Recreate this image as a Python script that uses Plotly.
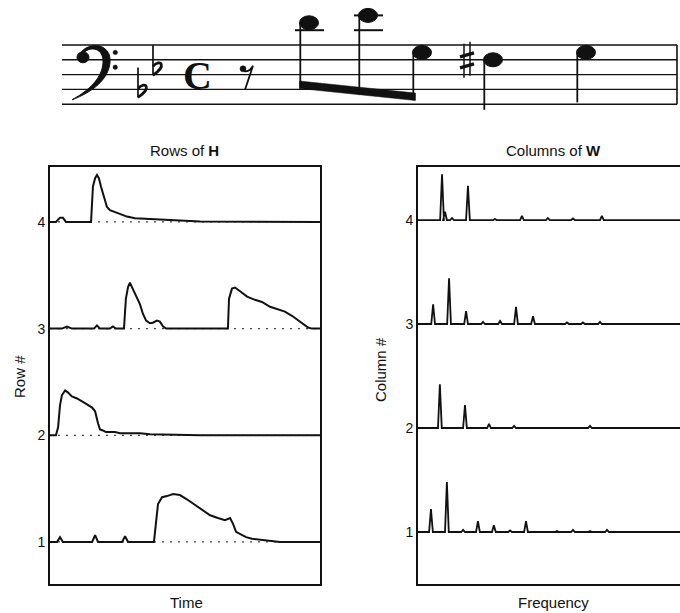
import plotly.graph_objects as go

# ---------------------------------------------------------------
# Rows of H : activation of each component over time (0-100 %)
# ---------------------------------------------------------------
h4_t = [0, 2.2, 3.7, 4.8, 5.9, 15.2, 15.9, 16.7, 17.4, 18.1, 18.9, 20.0, 21.1, 22.2,
        24.1, 25.9, 28.5, 31.5, 37.0, 42.6, 50.0, 55.6, 100]
h4_v = [0, 0, 0.04, 0.04, 0, 0, 0.33, 0.41, 0.44, 0.41, 0.33, 0.23, 0.14, 0.11,
        0.09, 0.075, 0.05, 0.035, 0.03, 0.02, 0.01, 0.005, 0]

h3_t = [0, 4.4, 6.3, 8.1, 16.3, 17.4, 18.5, 22.2, 23.3, 24.4, 27.4, 28.1, 28.9, 29.6,
        30.7, 31.9, 33.3, 34.4, 35.6, 37.0, 38.1, 39.6, 40.7, 41.9, 43.0, 65.9, 66.3,
        67.4, 68.5, 70.4, 73.0, 75.9, 78.5, 81.5, 84.4, 87.0, 89.6, 91.9, 93.7, 95.6,
        97.0, 100]
h3_v = [0, 0, 0.02, 0, 0, 0.03, 0, 0, 0.02, 0, 0, 0.28, 0.39, 0.43,
        0.37, 0.31, 0.23, 0.14, 0.075, 0.05, 0.055, 0.075, 0.065, 0.02, 0, 0, 0.28,
        0.375, 0.385, 0.35, 0.30, 0.27, 0.25, 0.205, 0.18, 0.16, 0.12, 0.075, 0.04, 0.01,
        0, 0]

h2_t = [0, 2.2, 3.0, 3.7, 4.4, 5.6, 6.7, 8.1, 10.0, 11.9, 13.7, 15.6, 16.7, 17.8,
        18.5, 19.6, 20.7, 22.2, 24.1, 25.9, 27.8, 33.3, 37.0, 44.4, 55.6, 100]
h2_v = [0, 0, 0.075, 0.28, 0.375, 0.42, 0.40, 0.365, 0.345, 0.32, 0.29, 0.26, 0.225, 0.11,
        0.055, 0.045, 0.03, 0.03, 0.03, 0.02, 0.02, 0.02, 0.01, 0.005, 0, 0]

h1_t = [0, 2.6, 3.7, 4.8, 15.6, 16.7, 17.8, 26.7, 27.8, 28.9, 38.5, 39.3, 40.0, 41.5,
        43.3, 45.6, 48.1, 50.7, 53.7, 56.3, 59.3, 62.2, 64.8, 66.7, 67.8, 68.9, 70.4,
        72.6, 74.8, 77.8, 81.5, 85.2, 100]
h1_v = [0, 0, 0.045, 0, 0, 0.065, 0, 0, 0.055, 0, 0, 0.19, 0.355, 0.42,
        0.43, 0.45, 0.44, 0.40, 0.345, 0.30, 0.25, 0.225, 0.205, 0.225, 0.17, 0.095, 0.075,
        0.045, 0.03, 0.02, 0.01, 0, 0]

# ---------------------------------------------------------------
# Columns of W : spectral peaks of each component (0-100 % band)
# ---------------------------------------------------------------
w4_f = [8.9, 10.0, 12.6, 18.5, 28.5, 38.5, 48.1, 57.4, 68.1]
w4_a = [0.44, 0.08, 0.02, 0.33, 0.01, 0.04, 0.02, 0.015, 0.04]

w3_f = [5.6, 11.5, 17.8, 24.1, 30.4, 36.3, 42.6, 55.2, 61.1, 67.4]
w3_a = [0.19, 0.44, 0.125, 0.02, 0.03, 0.165, 0.075, 0.015, 0.015, 0.02]

w2_f = [8.1, 17.4, 26.3, 35.6, 63.7]
w2_a = [0.42, 0.22, 0.04, 0.02, 0.02]

w1_f = [4.8, 10.7, 16.7, 22.2, 28.1, 34.1, 40.0, 51.5, 57.4, 63.7, 70.0]
w1_a = [0.22, 0.48, 0.02, 0.105, 0.065, 0.015, 0.105, 0.01, 0.02, 0.01, 0.02]

component_ticks = [1, 2, 3, 4]
component_labels = ["1", "2", "3", "4"]

# ---------------------------------------------------------------
# Score excerpt (bass clef, two flats, common time)
# ---------------------------------------------------------------
key_flats = ["B2", "E3"]
melody_pitch = ["D4", "Eb4", "G3", "F#3", "G3"]
melody_beats = [0.5, 0.5, 0.5, 1, 1]          # eighth rest first, then these
beamed_group = [0, 1, 2]

# horizontal engraving positions (staff coordinate system = pixels)
flat_x = [138, 153]
note_x = [309, 368, 422, 493, 586]
rest_x = 244
time_sig_x = 197
STAFF_X0, STAFF_X1 = 62, 677
TOP_LINE_Y, HALF_GAP = 45.0, 7.4

FONT = "Liberation Sans, Arial, sans-serif"
INK = "#111111"

W, H = 680, 613


def staff_y(pitch):
    order = {"C": 0, "D": 1, "E": 2, "F": 3, "G": 4, "A": 5, "B": 6}
    step = int(pitch[-1]) * 7 + order[pitch[0]]
    return TOP_LINE_Y + (26 - step) * HALF_GAP      # 26 = A3, top line of bass staff


def spectrum(freqs, amps, base, half_w=0.7, fmax=100):
    xs, ys = [0], [base]
    for f, a in zip(freqs, amps):
        xs += [f - half_w, f, f + half_w]
        ys += [base, base + a, base]
    xs.append(fmax)
    ys.append(base)
    return xs, ys


fig = go.Figure()

# ---- left panel: rows of H
rows = [(1, h1_t, h1_v), (2, h2_t, h2_v), (3, h3_t, h3_v), (4, h4_t, h4_v)]
for k, t, v in rows:
    fig.add_trace(go.Scatter(x=[0, 100], y=[k, k], mode="lines",
                             line=dict(color="#444444", width=1.2, dash="2px,6px"),
                             xaxis="x", yaxis="y", hoverinfo="skip"))
    fig.add_trace(go.Scatter(x=t, y=[k + val for val in v], mode="lines",
                             line=dict(color=INK, width=2), xaxis="x", yaxis="y"))

# ---- right panel: columns of W
cols = [(1, w1_f, w1_a), (2, w2_f, w2_a), (3, w3_f, w3_a), (4, w4_f, w4_a)]
for k, f, a in cols:
    xs, ys = spectrum(f, a, k)
    fig.add_trace(go.Scatter(x=xs, y=ys, mode="lines",
                             line=dict(color=INK, width=1.8), xaxis="x2", yaxis="y2"))

# ---- score
shapes = []
SREF = dict(xref="x3", yref="y3")

for p in ["A3", "F3", "D3", "B2", "G2"]:
    y = staff_y(p)
    shapes.append(dict(type="line", x0=STAFF_X0, x1=STAFF_X1, y0=y, y1=y,
                       line=dict(color=INK, width=1.4), **SREF))
shapes.append(dict(type="line", x0=STAFF_X1, x1=STAFF_X1, y0=staff_y("A3"), y1=staff_y("G2"),
                   line=dict(color=INK, width=1.6), **SREF))

# F clef
fy = staff_y("F3")
shapes.append(dict(type="path",
                   path=(f"M 80,{fy-6} C 88,{fy-19} 112,{fy-17} 110,{fy+3} "
                         f"C 108,{fy+20} 93,{fy+32} 72,{fy+40} "
                         f"C 90,{fy+30} 102,{fy+18} 103,{fy+3} "
                         f"C 104,{fy-12} 90,{fy-14} 84,{fy-7} Z"),
                   fillcolor=INK, line=dict(color=INK, width=1), **SREF))
shapes.append(dict(type="circle", x0=77, x1=89, y0=fy - 8, y1=fy + 3,
                   fillcolor=INK, line=dict(color=INK, width=1), **SREF))
for dy in (-HALF_GAP, HALF_GAP):
    shapes.append(dict(type="circle", x0=113, x1=117.5, y0=fy + dy - 2.2, y1=fy + dy + 2.2,
                       fillcolor=INK, line=dict(color=INK, width=0.5), **SREF))

# key signature flats
for p, x in zip(key_flats, flat_x):
    y = staff_y(p)
    shapes.append(dict(type="line", x0=x, x1=x, y0=y - 22, y1=y + 8,
                       line=dict(color=INK, width=1.7), **SREF))
    shapes.append(dict(type="path",
                       path=f"M {x},{y-1} C {x+8},{y-9} {x+14},{y-1} {x},{y+8}",
                       line=dict(color=INK, width=2.8), **SREF))

# eighth rest
ry = staff_y("F3") + 9
shapes.append(dict(type="circle", x0=rest_x - 4, x1=rest_x + 2, y0=ry - 3, y1=ry + 3,
                   fillcolor=INK, line=dict(color=INK, width=0.5), **SREF))
shapes.append(dict(type="path",
                   path=f"M {rest_x},{ry+2} Q {rest_x+5},{ry+4} {rest_x+9},{ry-3} L {rest_x+1},{ry+21}",
                   line=dict(color=INK, width=1.8), **SREF))

# note heads, ledger lines, accidentals
head_w, head_h = 9.5, 7.0
for i, (p, x) in enumerate(zip(melody_pitch, note_x)):
    y = staff_y(p[0] + p[-1])
    shapes.append(dict(type="circle", x0=x - head_w, x1=x + head_w, y0=y - head_h, y1=y + head_h,
                       fillcolor=INK, line=dict(color=INK, width=1), **SREF))
    ly = staff_y("C4")
    while ly >= y - 0.1:
        shapes.append(dict(type="line", x0=x - 14, x1=x + 15, y0=ly, y1=ly,
                           line=dict(color=INK, width=2), **SREF))
        ly -= 2 * HALF_GAP
    if "#" in p:
        sx = x - 26
        for dx, top in ((-3, y - 16), (3, y - 18)):
            shapes.append(dict(type="line", x0=sx + dx, x1=sx + dx, y0=top, y1=top + 34,
                               line=dict(color=INK, width=1.5), **SREF))
        for dy in (-5, 6):
            shapes.append(dict(type="line", x0=sx - 7, x1=sx + 7, y0=y + dy + 2, y1=y + dy - 2,
                               line=dict(color=INK, width=3.4), **SREF))

# beam for the eighth-note group (stems down, left side of heads)
bx0 = note_x[beamed_group[0]] - head_w
bx1 = note_x[beamed_group[-1]] - head_w + 3
beam_top0, beam_top1, beam_th = 81.0, 93.0, 7.5


def beam_bottom(x):
    return beam_top0 + (beam_top1 - beam_top0) * (x - bx0) / (bx1 - bx0) + beam_th


shapes.append(dict(type="path",
                   path=(f"M {bx0},{beam_top0} L {bx1},{beam_top1} "
                         f"L {bx1},{beam_top1 + beam_th} L {bx0},{beam_top0 + beam_th} Z"),
                   fillcolor=INK, line=dict(color=INK, width=0.5), **SREF))
for i, (p, x) in enumerate(zip(melody_pitch, note_x)):
    y = staff_y(p[0] + p[-1])
    sx = x - head_w + 0.8
    y_end = beam_bottom(sx) if i in beamed_group else y + 50
    shapes.append(dict(type="line", x0=sx, x1=sx, y0=y, y1=y_end,
                       line=dict(color=INK, width=1.8), **SREF))

# ---- annotations
def px(x):
    return x / W


def py(y):
    return 1 - y / H


label_font = dict(family=FONT, size=15, color=INK)
CENTER = dict(xanchor="center", yanchor="middle", showarrow=False)
annotations = [
    dict(text="Rows of <b>H</b>", x=px(185), y=py(150), xref="paper", yref="paper",
         font=label_font, **CENTER),
    dict(text="Columns of <b>W</b>", x=px(553), y=py(150), xref="paper", yref="paper",
         font=label_font, **CENTER),
    dict(text="Time", x=px(186), y=py(602), xref="paper", yref="paper",
         font=label_font, **CENTER),
    dict(text="Frequency", x=px(553), y=py(602), xref="paper", yref="paper",
         font=label_font, **CENTER),
    dict(text="Row #", x=px(19), y=py(377), xref="paper", yref="paper", textangle=-90,
         font=label_font, **CENTER),
    dict(text="Column #", x=px(380), y=py(370), xref="paper", yref="paper", textangle=-90,
         font=label_font, **CENTER),
    dict(text="<b>C</b>", x=time_sig_x, y=staff_y("D3") + 1, xref="x3", yref="y3",
         font=dict(family="Liberation Serif, serif", size=40, color=INK), **CENTER),
]

panel_y = [py(584), py(167)]
axis_common = dict(showgrid=False, zeroline=False, showline=True, linecolor=INK,
                   linewidth=1.6, ticks="")
tick_font = dict(family=FONT, size=14, color=INK)
fig.update_layout(
    width=W, height=H,
    margin=dict(l=0, r=0, t=0, b=0),
    paper_bgcolor="white", plot_bgcolor="white",
    showlegend=False, hovermode=False,
    xaxis=dict(domain=[px(50), px(320)], range=[0, 100], mirror=True,
               showticklabels=False, anchor="y", **axis_common),
    yaxis=dict(domain=panel_y, range=[0.606, 4.515], mirror=True, anchor="x",
               tickvals=component_ticks, ticktext=component_labels,
               tickfont=tick_font, **axis_common),
    xaxis2=dict(domain=[px(418), 1], range=[0, 97.04], mirror=True,
                showticklabels=False, anchor="y2", **axis_common),
    yaxis2=dict(domain=panel_y, range=[0.5, 4.51], mirror=False, anchor="x2",
                tickvals=component_ticks, ticktext=component_labels,
                tickfont=tick_font, **axis_common),
    xaxis3=dict(domain=[0, 1], range=[0, W], visible=False, anchor="y3"),
    yaxis3=dict(domain=[1 - 120 / H, 1], range=[120, 0], visible=False, anchor="x3"),
    shapes=shapes,
    annotations=annotations,
)

fig.write_html("out.html")
